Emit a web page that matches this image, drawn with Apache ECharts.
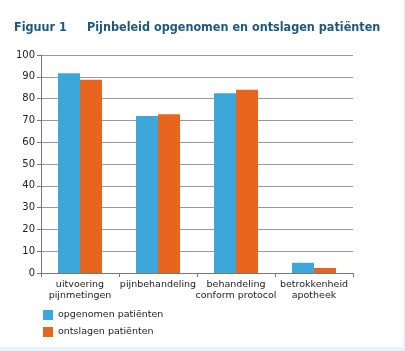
<!DOCTYPE html>
<html>
<head>
<meta charset="utf-8">
<script src="https://cdn.jsdelivr.net/npm/echarts@6/dist/echarts.min.js"></script>
<style>
  html, body { margin: 0; padding: 0; background: #eaf2f9; }
  #chart { width: 403px; height: 347px; background: #fff; }
</style>
</head>
<body>
<div id="chart"></div>
<script>
const categories = ['uitvoering\npijnmetingen', 'pijnbehandeling', 'behandeling\nconform protocol', 'betrokkenheid\napotheek']
const opgenomen = [91.6, 72.0, 82.4, 4.7]
const ontslagen = [88.7, 72.8, 84.1, 2.3]

const titleStyle = { color: '#1b587c', fontSize: 12.5, fontWeight: 'bold', fontFamily: "'DejaVu Sans Condensed'" }

const chart = echarts.init(document.getElementById('chart'))
chart.setOption({
  animation: false,
  color: ['#3ea7d9', '#e8651f'],
  title: [
    { text: 'Figuur 1', left: 9, top: 16, textStyle: titleStyle },
    { text: 'Pijnbeleid opgenomen en ontslagen patiënten', left: 82, top: 16, textStyle: titleStyle }
  ],
  legend: {
    orient: 'vertical',
    left: 38,
    top: 305,
    itemWidth: 10,
    itemHeight: 10,
    itemGap: 7,
    icon: 'rect',
    textStyle: { fontSize: 9.5, color: '#222', fontFamily: 'DejaVu Sans' },
    data: ['opgenomen patiënten', 'ontslagen patiënten']
  },
  grid: { left: 41, right: 50, top: 55, bottom: 74 },
  xAxis: {
    type: 'category',
    data: categories,
    axisLine: { lineStyle: { color: '#777' } },
    axisTick: { show: true, length: 4, lineStyle: { color: '#777' } },
    axisLabel: { fontSize: 9.5, color: '#222', lineHeight: 11, margin: 6, interval: 0, fontFamily: 'DejaVu Sans' }
  },
  yAxis: {
    type: 'value',
    min: 0,
    max: 100,
    interval: 10,
    axisLine: { show: true, lineStyle: { color: '#777' } },
    axisTick: { show: true, length: 4, lineStyle: { color: '#777' } },
    axisLabel: { fontSize: 10, color: '#222', margin: 6, fontFamily: 'DejaVu Sans' },
    splitLine: { lineStyle: { color: '#999' } }
  },
  series: [
    { name: 'opgenomen patiënten', type: 'bar', data: opgenomen, barWidth: 22, barGap: '0%' },
    { name: 'ontslagen patiënten', type: 'bar', data: ontslagen, barWidth: 22 }
  ]
})
</script>
</body>
</html>
